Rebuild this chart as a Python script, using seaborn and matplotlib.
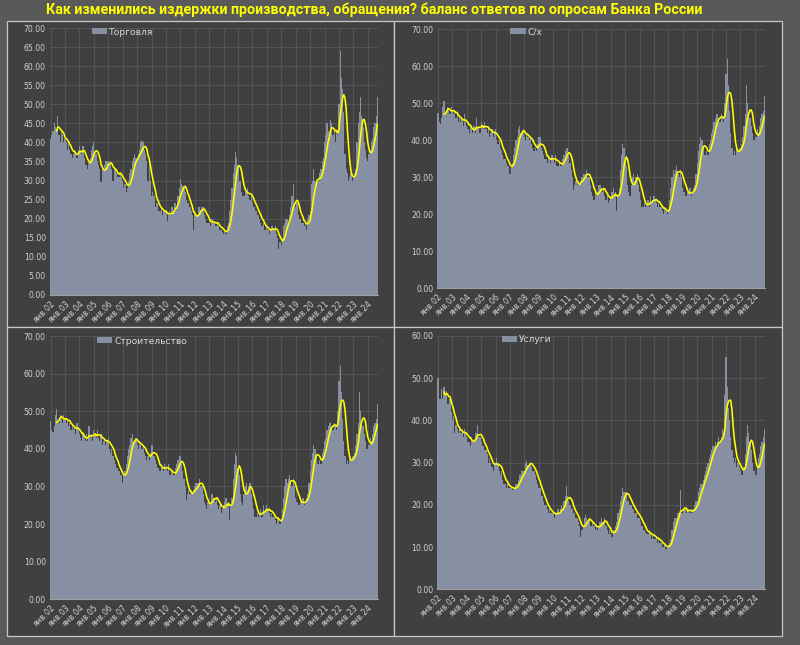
import numpy as np
import pandas as pd
import matplotlib
matplotlib.use("Agg")
import matplotlib.pyplot as plt
import seaborn as sns
from matplotlib.patches import Rectangle, Patch

# ---------------- data (monthly, Jan 2002 - Sep 2024) ----------------
tick_labels = ["янв.02", "янв.03", "янв.04", "янв.05", "янв.06", "янв.07", "янв.08",
               "янв.09", "янв.10", "янв.11", "янв.12", "янв.13", "янв.14", "янв.15",
               "янв.16", "янв.17", "янв.18", "янв.19", "янв.20", "янв.21", "янв.22",
               "янв.23", "янв.24"]

trade_values = [
    41, 42, 43, 45, 44, 43, 47, 42, 40, 43, 42, 40,
    41, 40, 38, 40, 38, 37, 36, 37, 38, 37, 36, 38,
    39, 38, 37, 39, 36, 34, 34, 33, 35, 36, 38, 39,
    40, 37, 37, 35, 34, 33, 29.5, 33, 33, 34, 35, 35,
    35, 34, 35, 33, 30, 33, 33, 32, 31, 31, 32, 31,
    30, 28, 29, 27, 28, 30, 32, 33, 35, 36, 37, 36,
    35, 37, 38, 40, 40.5, 40, 38, 37, 35, 30, 35, 30,
    26, 27, 26, 23, 24, 24, 22, 22, 23, 21, 22, 22,
    22, 19.5, 21, 22, 21, 23, 22, 24, 24, 23, 26, 28,
    30.5, 29, 28.5, 28, 27, 25, 24, 24, 23, 22, 21, 17,
    22, 21, 21, 23, 23, 22, 23, 23, 21, 20, 19, 19,
    19, 18, 20, 20, 19, 18, 18, 19, 18, 17, 17, 16.5,
    16, 17, 16, 18, 19, 22, 25, 28, 32, 34, 37.5, 36,
    34, 30, 30, 27, 26, 26, 27, 27, 28, 26, 25, 26,
    24, 23, 23, 22, 21, 21, 20, 19, 18, 19, 17, 17,
    18, 17, 16, 17, 18, 18, 17, 18, 16, 15, 12, 14,
    13, 15, 18, 19, 20, 20, 19, 21, 23, 26, 29, 24,
    23, 24, 21, 20, 20, 19, 19, 18, 19, 17, 20, 21,
    22, 29, 30, 33, 30, 29, 30, 30, 32, 33, 35, 36,
    40, 42, 45, 43, 42, 46, 45, 42, 43, 40, 43, 42,
    50, 64, 57, 54, 48, 37, 33, 32, 30, 31, 32, 30,
    31, 32, 33, 40, 45, 48, 52, 47, 44, 40, 38, 36,
    35, 37, 38, 40, 41, 44, 45, 47, 52]

agri_values = [
    47.5, 45, 44.5, 46, 49, 50.5, 48, 47, 49, 48, 47, 49,
    48, 47, 48, 46, 47, 45, 46, 45, 46, 44, 47, 45,
    44, 43, 42, 44, 43, 42, 44, 42, 46, 43, 44, 42,
    45, 44, 43, 45, 43, 42, 44, 41, 42, 43, 41, 42,
    43, 40, 39, 40, 38, 37, 36, 35, 35, 34, 33, 33,
    31, 33, 34, 36, 38, 40, 41, 43, 44, 42, 42, 43,
    41, 40, 42, 41, 40, 41, 39, 38, 37, 38, 37, 39,
    41, 41, 38, 37, 36, 35, 35, 34, 36, 35, 34, 36,
    35, 34, 36, 33, 33, 34, 33, 33, 35, 36, 37, 38,
    38, 36, 34, 32, 30, 26.5, 28, 29, 28, 29, 28, 29,
    30, 31, 31, 31, 32, 30, 30, 28, 26, 25, 24, 26,
    25, 26, 28, 28, 27, 26, 27, 25, 24, 25, 23, 24,
    25, 26, 27, 25, 26, 21, 25, 27, 32, 36, 39, 38,
    35, 33, 28, 26, 25, 28, 30, 31, 29, 30, 31, 28,
    26, 24, 22, 22, 23, 22, 23, 24, 22, 25, 23, 24,
    25, 24, 23, 22, 23, 22, 22, 21, 20, 22, 21, 20,
    21, 24, 27, 30, 32, 31, 32, 33, 31, 30, 32, 30,
    27, 26, 25, 25, 26, 26, 27, 25, 26, 27, 28, 31,
    34, 37, 39, 41, 40, 38, 36, 36, 37, 36, 39, 40,
    42, 43, 45, 46, 47, 47, 46, 45, 47, 46, 45, 50,
    58, 62, 55, 48, 42, 38, 36, 37, 36, 38, 37, 38,
    38, 39, 41, 44, 47, 55, 50, 47, 46, 44, 42, 40,
    40, 41, 43, 42, 44, 46, 47, 48, 52]

# the construction panel of the source shows the same series as agriculture
construction_values = list(agri_values)

services_values = [
    50, 45, 45, 47.5, 45, 48, 46, 47, 44, 44, 45, 42,
    40, 41, 37, 39, 38, 37, 38, 37, 37, 36, 38, 37,
    36, 35, 35, 34, 36, 35, 35, 37, 37, 39, 36, 36,
    35, 34, 34, 33, 33, 32, 30, 31, 30, 29, 28, 30,
    30, 31, 30, 28, 27, 28, 26, 25, 25, 24, 25, 24,
    24, 24, 23.5, 24, 23.5, 25, 25, 26, 27, 27, 28, 28,
    28, 30, 30.5, 29.5, 30, 30, 29, 28, 28, 27, 26, 25,
    24, 24, 22, 22, 21, 20, 20, 19, 18, 19, 18, 18,
    18, 17, 18, 18, 19, 18, 19, 20, 19, 21, 22, 24.5,
    22, 21, 20, 19, 19, 18, 18, 17, 17, 16, 15, 12.5,
    14, 15, 17, 17.5, 17, 16, 17, 15, 15, 16, 15, 14,
    15, 14, 15, 16, 17, 16, 16, 17, 15, 14, 13, 14,
    13, 12.5, 14, 14, 15, 16, 18, 19, 21, 22, 24, 23,
    23, 23, 21, 21, 20, 20, 19, 19, 18, 18, 17, 17,
    17, 16, 15, 14, 14, 13.5, 13, 13, 14, 13, 12, 13,
    12, 12, 12.5, 11, 12, 11, 11, 10, 10, 10.5, 9.5, 10,
    10.5, 11, 12, 14, 16, 17, 17, 17, 18, 18, 23.5, 18,
    18, 19, 19, 18, 19, 19, 18, 19, 18, 19, 20, 21,
    21, 23, 24, 25, 25, 26, 27, 28, 29, 30, 31, 32,
    33, 34, 34, 35, 34, 35, 36, 35, 36, 38, 37, 46,
    55, 48, 43, 40, 36, 33, 31, 30, 31, 29, 30, 29,
    28, 27, 27, 29, 32, 36, 39, 37, 35, 33, 30, 28,
    28, 27, 29, 31, 32, 34, 35, 36, 38]

panel_titles = ["Торговля", "С/х", "Строительство", "Услуги"]
title = "Как изменились издержки производства, обращения? баланс ответов по опросам Банка России"

# ---------------- style ----------------
FIG_BG = "#595959"
PANEL_BG = "#404040"
BORDER = "#c8c8c8"
GRID = "#585858"
BAR = "#878fa2"
LINE = "#ffff00"
TXT = "#d0d0d0"

W, H = 800, 645
fig = plt.figure(figsize=(8, 6.45), dpi=100, facecolor=FIG_BG)


def fx(x):
    return x / W


def fy(y):
    return 1 - y / H


# panel frames (pixel boxes)
frames = [(7, 21, 394, 326.5), (394, 21, 782, 326.5),
          (7, 326.5, 394, 636), (394, 326.5, 782, 636)]
for x0, y0, x1, y1 in frames:
    fig.patches.append(Rectangle((fx(x0), fy(y1)), (x1 - x0) / W, (y1 - y0) / H,
                                 transform=fig.transFigure, facecolor=PANEL_BG,
                                 edgecolor=BORDER, lw=0.9, zorder=-10))

# axes boxes: left, right, top(y at ymax), bottom(y at 0) in px
boxes = [(50, 378, 28, 295), (437.3, 765, 29.3, 288.3),
         (50, 378, 336, 599.3), (437.3, 765, 336, 589.3)]
series = [trade_values, agri_values, construction_values, services_values]
ymaxes = [70, 70, 70, 60]
ysteps = [5, 10, 10, 10]
legend_pos = [(0.127, 0.985), (0.222, 0.99), (0.1425, 0.981), (0.197, 0.985)]

tick_pos = [12 * i for i in range(len(tick_labels))]

for (l, r, t, b), vals, ymax, ystep, name, lp in zip(boxes, series, ymaxes, ysteps,
                                                     panel_titles, legend_pos):
    ax = fig.add_axes([fx(l), fy(b), (r - l) / W, (b - t) / H])
    ax.set_facecolor(PANEL_BG)
    df = pd.DataFrame({"m": np.arange(len(vals)), "v": vals})
    df["ma"] = df["v"].rolling(6).mean()
    sns.barplot(data=df, x="m", y="v", ax=ax, color=BAR, saturation=1,
                width=1.0, native_scale=True, errorbar=None,
                edgecolor="none", linewidth=0, zorder=2)
    sns.lineplot(data=df.dropna(), x="m", y="ma", ax=ax, color=LINE,
                 lw=1.15, zorder=3)
    ax.set_xlim(-0.5, len(vals) - 0.5)
    ax.set_ylim(0, ymax)
    yt = np.arange(0, ymax + 0.1, ystep)
    ax.set_yticks(yt)
    ax.set_yticklabels([f"{v:.2f}" for v in yt])
    ax.set_xticks(tick_pos)
    ax.set_xticklabels(tick_labels, rotation=45, ha="right", rotation_mode="anchor")
    ax.tick_params(axis="both", length=0, colors=TXT, labelsize=5.6)
    ax.tick_params(axis="y", pad=3)
    ax.tick_params(axis="x", pad=3)
    ax.grid(True, color=GRID, lw=0.6)
    ax.set_axisbelow(True)
    ax.set_xlabel("")
    ax.set_ylabel("")
    for s in ["top", "right", "left"]:
        ax.spines[s].set_visible(False)
    ax.spines["bottom"].set_color("#a0a0a0")
    ax.spines["bottom"].set_linewidth(0.8)
    ax.spines["bottom"].set_zorder(4)
    ax.legend(handles=[Patch(facecolor=BAR, edgecolor="none")], labels=[name],
              loc="center left", bbox_to_anchor=lp, frameon=False, fontsize=6.6,
              labelcolor="#d9d9d9", handlelength=1.7, handleheight=0.6,
              handletextpad=0.2, borderpad=0, borderaxespad=0)

tt = fig.text(fx(374), fy(10), title, color="#ffff00", fontsize=12, fontweight="bold",
              ha="center", va="center", family=["Roboto", "DejaVu Sans"])
fig.canvas.draw()
tw = tt.get_window_extent().width
tt.set_fontsize(12 * 652 / tw)

fig.savefig("out.png", dpi=100, facecolor=FIG_BG)
